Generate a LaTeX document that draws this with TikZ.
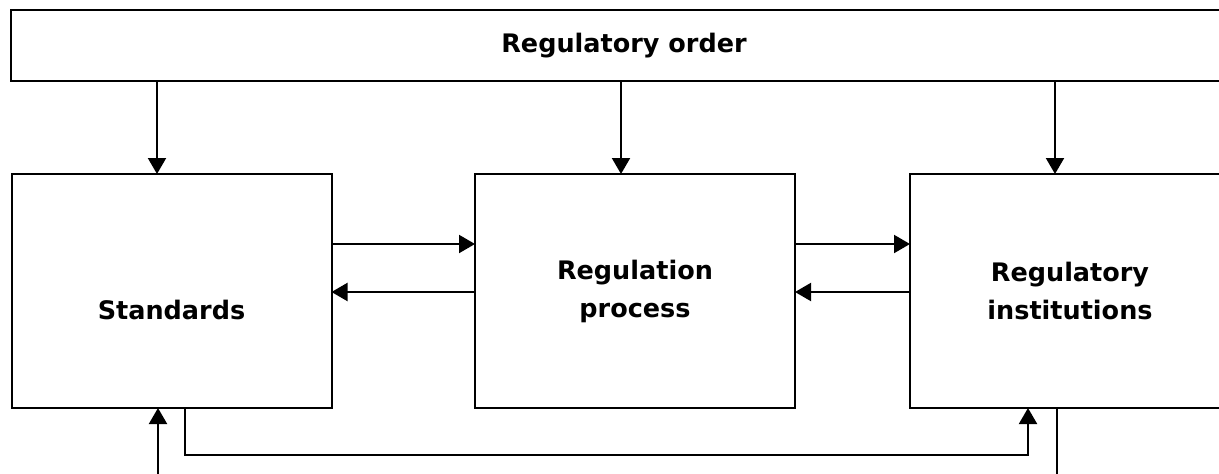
\documentclass[tikz,border=0pt]{standalone}
\usepackage{fontspec}
\setmainfont{DejaVu Sans}
\usepackage{xcolor}
\usepackage{tikz}
\usetikzlibrary{arrows.meta}

\tikzset{
  block/.style={draw, line width=2pt, minimum height=234pt, minimum width=320pt,
    align=center, font=\bfseries\fontsize{25.5}{38}\selectfont, inner sep=0pt, outer sep=0pt},
  arr/.style={line width=2pt, -{Triangle[length=16pt,width=18pt]}},
  link/.style={line width=2pt}
}

\begin{document}
\begin{tikzpicture}[x=1pt,y=-1pt]
    % Fix the frame and cut off the right side
    \useasboundingbox (0,0) rectangle (1219,474);
    \clip (0,0) rectangle (1219,474);

    % Draw the boxes
    \node[block, minimum width=1226pt, minimum height=71pt] (order) at (624,45.5) {Regulatory order};
    \node[block] (std) at (171.5,291) {\vphantom{Rg}\\Standards};
    \node[block] (proc) at (635,291) {Regulation\\process};
    \node[block] (inst) at (1070,291) {Regulatory\\institutions};

    % Helper points
    \coordinate (dA) at (157,0);
    \coordinate (dB) at (621,0);
    \coordinate (dC) at (1055,0);
    \coordinate (upper) at (0,244);
    \coordinate (lower) at (0,292);
    \coordinate (fbL) at (185,455);
    \coordinate (fbR) at (1028,455);
    \coordinate (inL) at (158,480);
    \coordinate (outR) at (1057,480);

    % Arrows from the top box
    \draw[arr] (order.south -| dA) -- (std.north -| dA);
    \draw[arr] (order.south -| dB) -- (proc.north -| dB);
    \draw[arr] (order.south -| dC) -- (inst.north -| dC);

    % Arrows between the boxes
    \draw[arr] (std.east |- upper) -- (proc.west |- upper);
    \draw[arr] (proc.west |- lower) -- (std.east |- lower);
    \draw[arr] (proc.east |- upper) -- (inst.west |- upper);
    \draw[arr] (inst.west |- lower) -- (proc.east |- lower);

    % Feedback loop at the bottom
    \draw[arr] (std.south -| fbL) -- (fbL) -- (fbR) -- (inst.south -| fbR);
    \draw[arr] (inL) -- (std.south -| inL);
    \draw[link] (inst.south -| outR) -- (outR);
\end{tikzpicture}
\end{document}
